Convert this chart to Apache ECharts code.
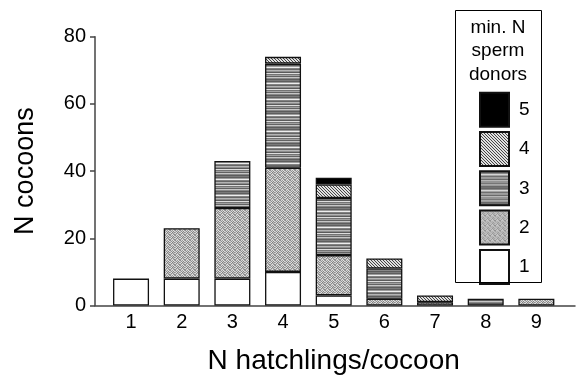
<!DOCTYPE html>
<html>
<head>
<meta charset="utf-8">
<script src="https://cdn.jsdelivr.net/npm/echarts@6/dist/echarts.min.js"></script>
<style>
html,body{margin:0;padding:0;background:#fff;}
#chart{width:578px;height:378px;}
</style>
</head>
<body>
<div id="chart"></div>
<script>
// ---- data ----
var categories = ['1', '2', '3', '4', '5', '6', '7', '8', '9'];
var donors1 = [8, 8, 8, 10, 3, 0, 0, 0, 0];
var donors2 = [0, 15, 21, 31, 12, 2, 1, 0, 2];
var donors3 = [0, 0, 14, 31, 17, 9, 0, 2, 0];
var donors4 = [0, 0, 0, 2, 4, 3, 2, 0, 0];
var donors5 = [0, 0, 0, 0, 2, 0, 0, 0, 0];
var yTicks = [0, 20, 40, 60, 80];
var legendNames = ['5', '4', '3', '2', '1'];

// ---- patterns ----
function makePattern(w, h, fn) {
  var c = document.createElement('canvas');
  c.width = w; c.height = h;
  var ctx = c.getContext('2d');
  for (var y = 0; y < h; y++) {
    for (var x = 0; x < w; x++) {
      ctx.fillStyle = fn(x, y);
      ctx.fillRect(x, y, 1, 1);
    }
  }
  return { image: c, repeat: 'repeat' };
}
var stippleGrid = [
  ['#8c8c8c', '#d6d6d6', '#9a9a9a', '#e4e4e4', '#a0a0a0'],
  ['#c8c8c8', '#909090', '#d2d2d2', '#858585', '#dcdcdc'],
  ['#a4a4a4', '#e6e6e6', '#7e7e7e', '#c4c4c4', '#8e8e8e'],
  ['#dadada', '#8a8a8a', '#bcbcbc', '#969696', '#d0d0d0'],
  ['#989898', '#c0c0c0', '#e2e2e2', '#a8a8a8', '#868686']
];
var stripeCol = ['#7a7a7a', '#5e5e5e', '#9c9c9c', '#eeeeee', '#828282', '#666666', '#b4b4b4', '#8e8e8e',
                 '#5a5a5a', '#dedede', '#747474', '#a0a0a0', '#626262', '#c6c6c6', '#888888', '#5c5c5c'];
var patStipple = makePattern(5, 5, function (x, y) { return stippleGrid[y][x]; });
var patStripe = makePattern(1, stripeCol.length, function (x, y) { return stripeCol[y]; });
var patDiag = makePattern(3, 3, function (x, y) { return ((x - y + 3) % 3 === 0) ? '#444444' : '#e0e0e0'; });

var styles = {
  '1': '#ffffff',
  '2': patStipple,
  '3': patStripe,
  '4': patDiag,
  '5': '#000000'
};

function toData(arr) {
  return arr.map(function (v) { return v === 0 ? '-' : v; });
}

var seriesDefs = [
  { name: '1', values: donors1 },
  { name: '2', values: donors2 },
  { name: '3', values: donors3 },
  { name: '4', values: donors4 },
  { name: '5', values: donors5 }
];

var FONT = '"Liberation Sans", Arial, Helvetica, sans-serif';
var AXIS_COLOR = '#444';

var chart = echarts.init(document.getElementById('chart'), null, { renderer: 'canvas' });
chart.setOption({
  animation: false,
  backgroundColor: '#ffffff',
  textStyle: { fontFamily: FONT, color: '#000' },
  grid: [
    // grid 0: bars (category bands)
    { left: 105.7, top: 36.7, width: 456, height: 268.8, containLabel: false, outerBoundsMode: 'none' },
    // grid 1: visible axis frame
    { left: 95, top: 36.7, width: 480, height: 268.8, containLabel: false, outerBoundsMode: 'none' }
  ],
  xAxis: [
    {
      gridIndex: 0,
      type: 'category',
      data: categories,
      boundaryGap: true,
      axisLine: { show: false },
      axisTick: { show: false },
      splitLine: { show: false },
      axisLabel: { fontSize: 20, color: '#000', fontFamily: FONT, margin: 7 },
      name: 'N hatchlings/cocoon',
      nameLocation: 'middle',
      nameGap: 42,
      nameTextStyle: { fontSize: 28, color: '#000', fontFamily: FONT }
    },
    {
      gridIndex: 1,
      type: 'value',
      min: 0,
      max: 1,
      axisLine: { show: true, onZero: false, lineStyle: { color: AXIS_COLOR, width: 1.5 } },
      axisTick: { show: false },
      axisLabel: { show: false },
      splitLine: { show: false }
    }
  ],
  yAxis: [
    {
      gridIndex: 0,
      type: 'value',
      min: yTicks[0],
      max: yTicks[yTicks.length - 1],
      show: false,
      splitLine: { show: false }
    },
    {
      gridIndex: 1,
      type: 'value',
      min: yTicks[0],
      max: yTicks[yTicks.length - 1],
      interval: 20,
      splitLine: { show: false },
      axisLine: { show: true, lineStyle: { color: AXIS_COLOR, width: 1.5 } },
      axisTick: { show: true, inside: false, length: 5, lineStyle: { color: AXIS_COLOR, width: 1.5 } },
      axisLabel: { fontSize: 20, color: '#000', fontFamily: FONT, margin: 9 },
      name: 'N cocoons',
      nameLocation: 'middle',
      nameGap: 56,
      nameRotate: 90,
      nameTextStyle: { fontSize: 27, color: '#000', fontFamily: FONT }
    }
  ],
  legend: {
    data: legendNames,
    orient: 'vertical',
    left: 479,
    top: 91.7,
    padding: 0,
    itemWidth: 29,
    itemHeight: 34,
    itemGap: 3.3,
    icon: 'rect',
    selectedMode: false,
    textStyle: { fontSize: 19, color: '#000', fontFamily: FONT, padding: [0, 0, 0, 5] }
  },
  graphic: [
    {
      type: 'rect',
      shape: { x: 455.5, y: 10.5, width: 86, height: 272 },
      style: { fill: 'none', stroke: '#000', lineWidth: 1 },
      z: 10
    },
    {
      type: 'text',
      x: 498, y: 16,
      style: {
        text: 'min. N\nsperm\ndonors',
        fontSize: 19, fontFamily: FONT, fill: '#000',
        align: 'center', verticalAlign: 'top', lineHeight: 23.5
      },
      z: 10
    }
  ],
  series: seriesDefs.map(function (s) {
    return {
      name: s.name,
      type: 'bar',
      stack: 'total',
      xAxisIndex: 0,
      yAxisIndex: 0,
      barWidth: 36,
      data: toData(s.values),
      itemStyle: { color: styles[s.name], borderColor: '#111', borderWidth: 1.3 },
      emphasis: { disabled: true }
    };
  })
});
</script>
</body>
</html>
